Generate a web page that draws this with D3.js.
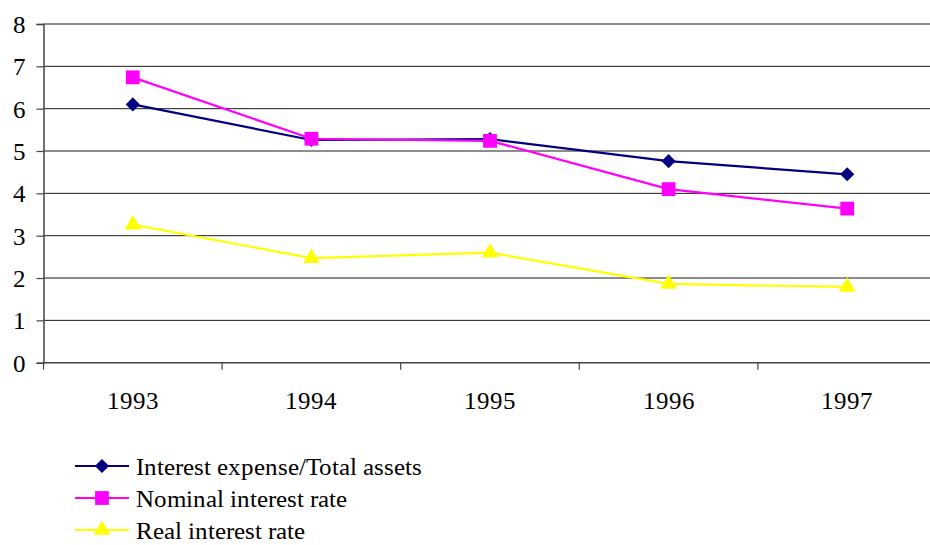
<!DOCTYPE html>
<html>
<head>
<meta charset="utf-8">
<script src="https://cdn.jsdelivr.net/npm/d3@7"></script>
<style>
  @font-face {
    font-family: "ChartSerif";
    src: local("Liberation Serif"), local("LiberationSerif"), local("LiberationSerif-Regular"),
         url("file:///usr/share/fonts/truetype/liberation/LiberationSerif-Regular.ttf"),
         url("file:///usr/share/fonts/truetype/liberation2/LiberationSerif-Regular.ttf"),
         url("file:///usr/share/fonts/liberation/LiberationSerif-Regular.ttf"),
         local("Times New Roman"), local("TimesNewRomanPSMT");
  }
  html, body { margin: 0; padding: 0; background: #fff; }
  svg { display: block; }
  svg text { font-family: "ChartSerif", "Liberation Serif", "Times New Roman", serif; fill: #000; }
</style>
</head>
<body>
<svg id="chart" width="930" height="545"></svg>
<script>
// Years on the category axis
const years = ["1993", "1994", "1995", "1996", "1997"];

// Series values (percent)
const interestExpense = [6.1, 5.26, 5.28, 4.76, 4.45];
const nominalRate = [6.74, 5.29, 5.24, 4.1, 3.64];
const realRate = [3.26, 2.47, 2.6, 1.86, 1.79];

// Value-axis ticks
const yTicks = [0, 1, 2, 3, 4, 5, 6, 7, 8];

const seriesNames = ["Interest expense/Total assets", "Nominal interest rate", "Real interest rate"];
const seriesColors = ["#000080", "#ff00ff", "#ffff00"];
// the diamond is a square turned by 45 degrees
const seriesShapes = [d3.symbolSquare, d3.symbolSquare, d3.symbolTriangle];
const seriesRotate = [45, 0, 0];
const seriesSizes = [100, 190, 120];

const series = [interestExpense, nominalRate, realRate].map((values, i) => ({
  name: seriesNames[i],
  color: seriesColors[i],
  shape: seriesShapes[i],
  rotate: seriesRotate[i],
  size: seriesSizes[i],
  values
}));

const svg = d3.select("#chart");
const margin = { left: 43.5, right: -6.5, top: 24, bottom: 182.3 };
const W = 930, H = 545;

const x = d3.scaleBand()
  .domain(years)
  .range([margin.left, W - margin.right]);

const y = d3.scaleLinear()
  .domain([0, 8])
  .range([H - margin.bottom, margin.top]);

// Horizontal gridlines
svg.append("g")
  .selectAll("line")
  .data(yTicks.filter(d => d > 0))
  .join("line")
  .attr("x1", margin.left)
  .attr("x2", W - margin.right)
  .attr("y1", d => y(d))
  .attr("y2", d => y(d))
  .attr("stroke", "#1a1a1a")
  .attr("stroke-width", 1);

// Value axis
const yAxis = svg.append("g")
  .attr("transform", `translate(${margin.left},0)`)
  .call(d3.axisLeft(y).tickValues(yTicks).tickSize(7).tickPadding(11).tickFormat(d3.format("d")));
yAxis.attr("font-family", null);
yAxis.select(".domain").attr("stroke", "#444").attr("stroke-width", 1.5);
yAxis.selectAll(".tick line").attr("stroke", "#444").attr("stroke-width", 1.2);
yAxis.selectAll(".tick text")
  .attr("fill", "#000")
  .style("font-size", "25px")
  .attr("dy", "0.34em");

// Category axis, ticks between the categories
const xAxisG = svg.append("g")
  .attr("transform", `translate(0,${y(0)})`);
xAxisG.append("line")
  .attr("x1", margin.left).attr("x2", W - margin.right)
  .attr("stroke", "#444").attr("stroke-width", 1.5);
const bounds = years.map(d => x(d)).concat([x(years[years.length - 1]) + x.bandwidth()]);
xAxisG.selectAll("line.tk")
  .data(bounds)
  .join("line")
  .attr("class", "tk")
  .attr("x1", d => d).attr("x2", d => d)
  .attr("y1", 0).attr("y2", 7)
  .attr("stroke", "#444").attr("stroke-width", 1.2);
xAxisG.selectAll("text")
  .data(years)
  .join("text")
  .attr("x", d => x(d) + x.bandwidth() / 2)
  .attr("y", 46.5)
  .attr("text-anchor", "middle")
  .style("font-size", "25px")
  .text(d => d);

// Lines and markers
const line = d3.line()
  .x((d, i) => x(years[i]) + x.bandwidth() / 2)
  .y(d => y(d));

series.forEach(s => {
  const g = svg.append("g");
  g.append("path")
    .attr("d", line(s.values))
    .attr("fill", "none")
    .attr("stroke", s.color)
    .attr("stroke-width", 2.2);
  g.selectAll("path.m")
    .data(s.values)
    .join("path")
    .attr("class", "m")
    .attr("transform", (d, i) => `translate(${x(years[i]) + x.bandwidth() / 2},${y(d)}) rotate(${s.rotate})`)
    .attr("d", d3.symbol().type(s.shape).size(s.size))
    .attr("fill", s.color);
});

// Legend
const legend = svg.append("g").attr("transform", "translate(75,466)");
series.forEach((s, i) => {
  const row = legend.append("g").attr("transform", `translate(0,${i * 32})`);
  row.append("line")
    .attr("x1", 0).attr("x2", 54)
    .attr("stroke", s.color).attr("stroke-width", 2.2);
  row.append("path")
    .attr("transform", `translate(27,0) rotate(${s.rotate})`)
    .attr("d", d3.symbol().type(s.shape).size(s.size))
    .attr("fill", s.color);
  row.append("text")
    .attr("x", 61)
    .attr("y", 0)
    .attr("dy", "0.34em")
    .style("font-size", "25px")
    .text(s.name);
});
</script>
</body>
</html>
